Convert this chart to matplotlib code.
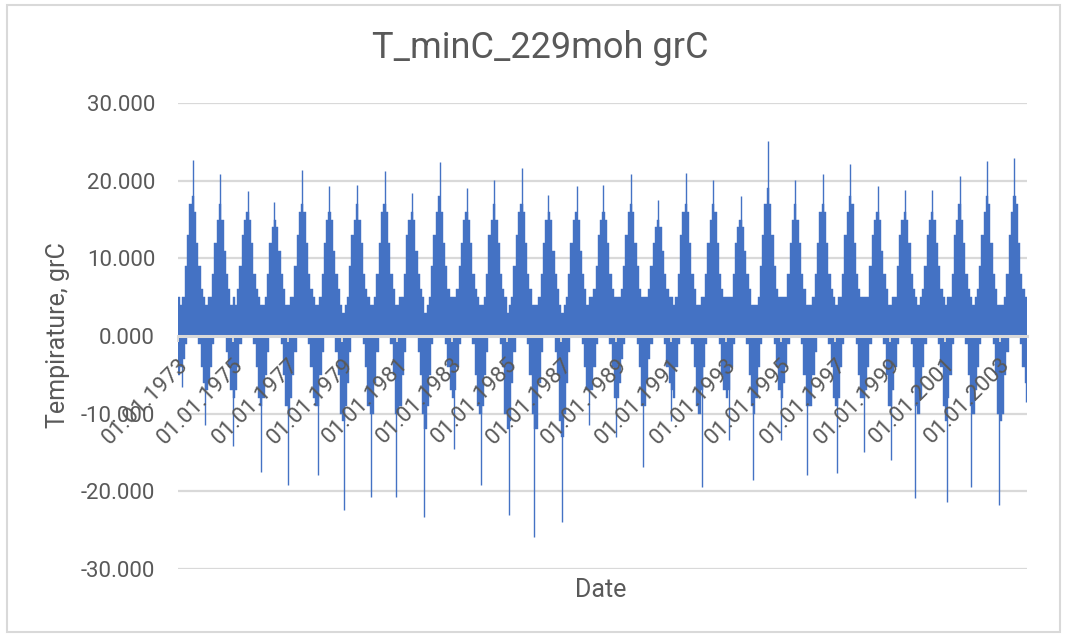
import matplotlib
matplotlib.use("Agg")
import matplotlib.pyplot as plt
import matplotlib.dates as mdates
from matplotlib.patches import Rectangle
import datetime as dt
import calendar

# ---------------- data ----------------
years = list(range(1973, 2004))

# monthly upper envelope (body) of daily Tmin, Jan..Dec, per year
month_hi = [
    [5, 4, 5, 9, 13, 17, 18, 16, 12, 9, 6, 5],   # 1973
    [4, 5, 5, 8, 12, 15, 17, 15, 11, 8, 6, 4],   # 1974
    [5, 4, 6, 9, 13, 15, 16, 15, 12, 8, 6, 5],   # 1975
    [4, 4, 5, 8, 12, 14, 15, 14, 11, 8, 6, 4],   # 1976
    [4, 5, 5, 9, 13, 16, 17, 16, 12, 8, 6, 5],   # 1977
    [4, 4, 5, 8, 12, 15, 16, 15, 11, 8, 6, 4],   # 1978
    [3, 4, 5, 9, 13, 15, 17, 15, 12, 8, 6, 5],   # 1979
    [4, 4, 5, 8, 12, 16, 17, 16, 12, 8, 6, 4],   # 1980
    [4, 5, 5, 8, 13, 15, 16, 15, 11, 8, 6, 5],   # 1981
    [3, 4, 5, 9, 13, 16, 18, 16, 12, 9, 6, 5],   # 1982
    [5, 5, 6, 9, 12, 15, 16, 15, 12, 8, 6, 5],   # 1983
    [4, 4, 5, 8, 13, 15, 17, 15, 12, 8, 6, 5],   # 1984
    [3, 4, 5, 9, 13, 16, 17, 16, 12, 8, 6, 4],   # 1985
    [4, 4, 5, 8, 12, 15, 16, 15, 11, 8, 6, 4],   # 1986
    [3, 4, 5, 8, 12, 15, 16, 15, 11, 8, 6, 4],   # 1987
    [5, 5, 6, 9, 13, 15, 16, 15, 12, 8, 6, 5],   # 1988
    [5, 5, 6, 9, 13, 16, 17, 16, 12, 9, 6, 5],   # 1989
    [5, 5, 6, 9, 12, 14, 15, 14, 11, 8, 6, 5],   # 1990
    [5, 4, 5, 8, 13, 16, 17, 16, 12, 8, 6, 4],   # 1991
    [4, 5, 5, 8, 12, 15, 17, 16, 12, 8, 6, 5],   # 1992
    [5, 5, 5, 8, 12, 14, 15, 14, 11, 8, 6, 4],   # 1993
    [4, 4, 5, 9, 13, 17, 19, 17, 13, 9, 6, 5],   # 1994
    [5, 5, 5, 8, 12, 15, 17, 15, 12, 8, 6, 4],   # 1995
    [4, 4, 5, 8, 12, 16, 17, 16, 12, 8, 6, 5],   # 1996
    [4, 5, 5, 8, 13, 16, 18, 17, 12, 8, 6, 5],   # 1997
    [5, 5, 5, 9, 13, 15, 16, 15, 11, 8, 6, 4],   # 1998
    [4, 5, 5, 9, 13, 15, 16, 15, 12, 8, 6, 5],   # 1999
    [4, 5, 6, 9, 13, 15, 16, 15, 12, 9, 6, 5],   # 2000
    [4, 5, 5, 8, 13, 15, 17, 15, 12, 8, 6, 5],   # 2001
    [4, 5, 6, 9, 13, 16, 18, 17, 12, 8, 6, 4],   # 2002
    [4, 4, 5, 8, 13, 16, 18, 17, 12, 8, 6, 5],   # 2003
]

# monthly lower envelope (body) of daily Tmin, Jan..Dec, per year
month_lo = [
    [-5, -4, -3, -1, 2, 6, 9, 8, 3, -1, -4, -6],       # 1973
    [-7, -6, -4, -1, 2, 5, 8, 7, 2, -2, -4, -7],       # 1974
    [-8, -7, -4, -1, 1, 5, 8, 7, 3, -1, -4, -8],       # 1975
    [-9, -8, -5, -2, 1, 5, 7, 7, 2, -1, -5, -9],       # 1976
    [-10, -8, -5, -2, 1, 6, 8, 7, 3, -1, -4, -8],      # 1977
    [-9, -9, -5, -2, 1, 5, 8, 7, 2, -2, -5, -10],      # 1978
    [-11, -9, -6, -2, 1, 5, 8, 7, 3, -1, -4, -9],      # 1979
    [-10, -10, -6, -2, 1, 6, 8, 7, 2, -1, -5, -10],    # 1980
    [-10, -9, -5, -2, 1, 5, 8, 7, 3, -2, -5, -10],     # 1981
    [-12, -9, -5, -1, 2, 6, 9, 8, 3, -1, -4, -7],      # 1982
    [-8, -7, -4, -1, 1, 5, 8, 7, 3, -1, -5, -9],       # 1983
    [-10, -9, -5, -2, 1, 5, 8, 7, 2, -1, -4, -10],     # 1984
    [-12, -11, -6, -2, 1, 5, 8, 7, 3, -1, -5, -10],    # 1985
    [-12, -12, -6, -2, 1, 5, 8, 7, 2, -2, -5, -11],    # 1986
    [-13, -10, -6, -2, 1, 5, 8, 7, 2, -1, -4, -7],     # 1987
    [-7, -7, -4, -1, 1, 5, 8, 7, 3, -1, -4, -8],       # 1988
    [-8, -6, -3, -1, 2, 6, 9, 8, 3, -1, -4, -9],       # 1989
    [-9, -6, -3, -1, 2, 5, 8, 7, 2, -1, -4, -6],       # 1990
    [-7, -8, -4, -1, 1, 5, 8, 7, 3, -1, -4, -9],       # 1991
    [-10, -7, -4, -1, 1, 5, 8, 7, 2, -1, -5, -7],      # 1992
    [-8, -7, -4, -1, 1, 5, 7, 7, 2, -1, -5, -9],       # 1993
    [-10, -8, -4, -1, 2, 6, 9, 8, 3, -1, -4, -7],      # 1994
    [-8, -6, -4, -1, 1, 5, 8, 7, 3, -1, -5, -9],       # 1995
    [-9, -9, -5, -2, 1, 5, 8, 7, 2, -1, -4, -8],       # 1996
    [-9, -8, -4, -1, 1, 6, 9, 8, 3, -1, -5, -8],       # 1997
    [-8, -7, -4, -1, 1, 5, 8, 7, 2, -1, -5, -9],       # 1998
    [-9, -7, -4, -1, 1, 5, 8, 7, 3, -1, -4, -9],       # 1999
    [-10, -8, -4, -1, 2, 5, 8, 7, 3, -1, -4, -9],      # 2000
    [-11, -8, -5, -1, 1, 5, 8, 7, 2, -1, -5, -9],      # 2001
    [-10, -7, -4, -1, 1, 6, 9, 8, 3, -1, -5, -10],     # 2002
    [-11, -10, -5, -2, 1, 5, 9, 8, 3, -1, -4, -6],     # 2003
]

# single-day summer extremes
peak_dates = ["1973-07-20", "1974-07-12", "1975-07-18", "1976-07-10", "1977-07-15",
              "1978-07-08", "1979-07-20", "1980-07-25", "1981-07-14", "1982-07-22",
              "1983-07-16", "1984-07-10", "1985-07-19", "1986-07-12", "1987-07-24",
              "1988-07-08", "1989-07-17", "1990-07-11", "1991-07-21", "1992-07-09",
              "1993-07-18", "1994-07-13", "1995-07-16", "1996-07-20", "1997-07-12",
              "1998-07-23", "1999-07-15", "2000-07-10", "2001-07-19", "2002-07-14",
              "2003-07-17"]
peak_values = [22.7, 20.8, 18.7, 17.3, 21.4, 19.3, 19.5, 21.2, 18.4, 22.4,
               19.0, 20.1, 21.6, 18.2, 19.3, 19.4, 20.8, 17.5, 21.0, 20.1,
               18.0, 25.1, 20.1, 20.8, 22.2, 19.3, 18.8, 18.8, 20.6, 22.5,
               22.9]

# single-day winter extremes
low_dates = ["1973-02-20", "1973-12-25", "1975-01-05", "1976-01-10", "1977-01-05",
             "1978-02-05", "1979-01-25", "1980-01-15", "1980-12-20", "1982-01-01",
             "1983-02-01", "1984-01-20", "1985-02-01", "1986-01-01", "1987-01-05",
             "1988-01-05", "1988-12-25", "1989-12-30", "1991-01-01", "1992-02-15",
             "1993-02-10", "1993-12-25", "1995-01-01", "1995-12-25", "1997-01-25",
             "1998-01-15", "1999-01-10", "1999-12-05", "2001-01-25", "2001-12-15",
             "2002-12-25", "2003-12-20"]
low_values = [-6.6, -11.5, -14.1, -17.5, -19.2, -17.9, -22.4, -20.7, -20.7, -23.3,
              -14.5, -19.2, -23.1, -25.9, -24.0, -11.5, -13.0, -16.9, -10.9, -19.4,
              -13.4, -18.6, -13.4, -17.9, -17.7, -14.9, -16.0, -20.9, -21.4, -19.4,
              -21.8, -8.5]

tick_years = list(range(1973, 2004, 2))
y_ticks = [-30, -20, -10, 0, 10, 20, 30]

title_text = "T_minC_229moh grC"
x_label = "Date"
y_label = "Tempirature, grC"

# ---------------- style ----------------
BLUE = "#4472C4"
GRID = "#D9D9D9"
TEXT = "#595959"
FONT = "Roboto"

W, H = 1067, 637
fig = plt.figure(figsize=(W / 100, H / 100), dpi=100)
ax = fig.add_axes([178 / W, 1 - 569 / H, (1027 - 178) / W, (569 - 103) / H])

# spines first (set_position resets tick settings)
for s in ["top", "right", "left"]:
    ax.spines[s].set_visible(False)
ax.spines["bottom"].set_position(("data", 0))
ax.spines["bottom"].set_color(GRID)
ax.spines["bottom"].set_linewidth(2.2)
ax.spines["bottom"].set_zorder(5)

# body bars (monthly envelopes)
xs, ws, his, los = [], [], [], []
for yi, yr in enumerate(years):
    for m in range(12):
        start = dt.date(yr, m + 1, 1)
        ndays = calendar.monthrange(yr, m + 1)[1]
        xs.append(mdates.date2num(start))
        ws.append(ndays)
        his.append(month_hi[yi][m])
        los.append(month_lo[yi][m])
ax.bar(xs, his, width=ws, align="edge", color=BLUE, edgecolor=BLUE,
       linewidth=0.3, zorder=2)
ax.bar(xs, los, width=ws, align="edge", color=BLUE, edgecolor=BLUE,
       linewidth=0.3, zorder=2)

# single-day spikes
pk = [mdates.date2num(dt.date.fromisoformat(d)) for d in peak_dates]
lw_ = [mdates.date2num(dt.date.fromisoformat(d)) for d in low_dates]
ax.vlines(pk, 0, peak_values, color=BLUE, linewidth=1.0, zorder=2)
ax.vlines(lw_, 0, low_values, color=BLUE, linewidth=1.0, zorder=2)

# axes
ax.set_xlim(mdates.date2num(dt.date(1973, 1, 1)), mdates.date2num(dt.date(2004, 1, 1)))
ax.set_ylim(-30, 30)
ax.set_yticks(y_ticks)
ax.set_yticklabels([f"{v:.3f}" for v in y_ticks], fontsize=16, color=TEXT, family=FONT)
ax.yaxis.grid(True, color=GRID, linewidth=1.6)
ax.set_axisbelow(True)
ax.xaxis.set_zorder(6)   # date labels drawn over the bars, as in the reference
ax.tick_params(axis="y", length=0, pad=16.5)

xt = [mdates.date2num(dt.date(y, 1, 1)) for y in tick_years]
ax.set_xticks(xt)
ax.set_xticklabels([dt.date(y, 1, 1).strftime("%d.%m.%Y") for y in tick_years],
                   rotation=45, ha="right", va="top", rotation_mode="anchor",
                   fontsize=16, color=TEXT, family=FONT)
ax.tick_params(axis="x", direction="out", length=4, width=1.4, color=GRID, pad=9)

fig.text(540 / W, 1 - 48 / H, title_text, ha="center", va="center",
         fontsize=26, color=TEXT, family=FONT)
fig.text(601 / W, 1 - 590 / H, x_label, ha="center", va="center",
         fontsize=18, color=TEXT, family=FONT)
fig.text(58 / W, 1 - 335 / H, y_label, ha="center", va="center", rotation=90,
         fontsize=18, color=TEXT, family=FONT)

fig.patches.append(Rectangle((7 / W, 1 - 632 / H), (1060 - 7) / W, (632 - 5) / H,
                             transform=fig.transFigure, fill=False,
                             edgecolor=GRID, linewidth=1.5))

fig.savefig("out.png", dpi=100, facecolor="white")
